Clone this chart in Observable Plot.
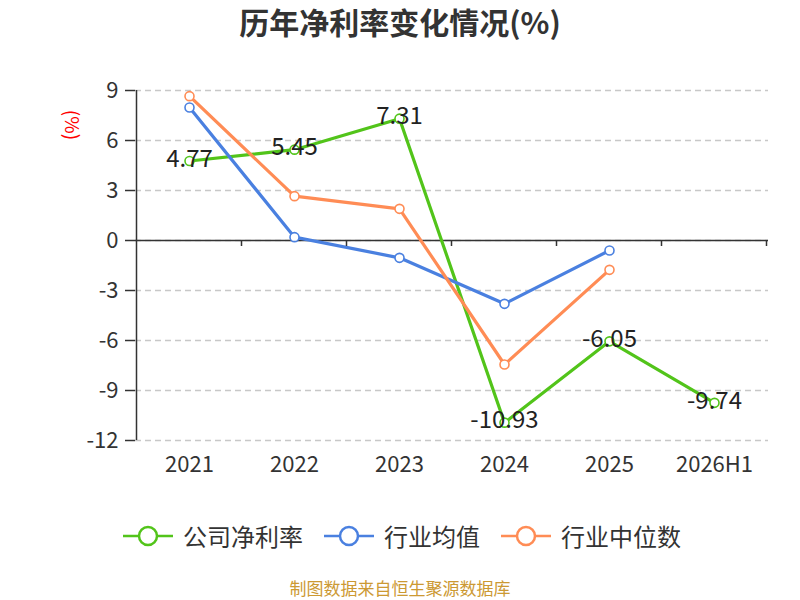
<!DOCTYPE html>
<html>
<head>
<meta charset="utf-8">
<script src="https://cdn.jsdelivr.net/npm/d3@7"></script>
<script src="https://cdn.jsdelivr.net/npm/@observablehq/plot@0.6"></script>
<style>
  html, body { margin: 0; padding: 0; background: #fff; }
  #wrap { position: relative; width: 800px; height: 600px; font-family: "Noto Sans CJK SC", "Noto Sans", sans-serif; overflow: hidden; }
  #title { position: absolute; top: -1px; left: 0; width: 800px; text-align: center; font-size: 30px; font-weight: bold; color: #333; }
  #chart { position: absolute; top: 50px; left: 0; }
  #ylabel { position: absolute; left: 73px; top: 125px; transform: translate(-50%, -50%) rotate(90deg); font-size: 19px; color: #f00; white-space: nowrap; }
  #legend { position: absolute; top: 518px; left: 2px; width: 800px; display: flex; justify-content: center; gap: 21px; font-size: 24px; color: #333; }
  .item { display: flex; align-items: center; gap: 10px; }
  #footer { position: absolute; top: 577px; left: 0; width: 800px; text-align: center; font-size: 17px; line-height: 21px; color: #cc9933; }
</style>
</head>
<body>
<div id="wrap">
  <div id="title">历年净利率变化情况(%)</div>
  <div id="chart"></div>
  <div id="ylabel">(%)</div>
  <div id="legend"></div>
  <div id="footer">制图数据来自恒生聚源数据库</div>
</div>
<script>
const years = ["2021", "2022", "2023", "2024", "2025", "2026H1"];
const companyNames = ["公司净利率", "行业均值", "行业中位数"];
const companyRate = [4.77, 5.45, 7.31, -10.93, -6.05, -9.74];
const industryAvg = [7.98, 0.2, -1.04, -3.8, -0.6];
const industryMedian = [8.66, 2.66, 1.9, -7.44, -1.76];
const yTicks = [9, 6, 3, 0, -3, -6, -9, -12];
const colors = ["#52c41a", "#4a80e0", "#ff8c55"];

const series = [companyRate, industryAvg, industryMedian];
const data = [];
series.forEach((arr, si) => arr.forEach((v, i) => data.push({year: years[i], value: v, s: companyNames[si]})));
const company = data.filter(d => d.s === companyNames[0]);

const W = 800, H = 450;
const chart = Plot.plot({
  width: W, height: H,
  marginLeft: 135, marginRight: 32, marginTop: 40, marginBottom: 60,
  style: {fontFamily: '"Noto Sans CJK SC", "Noto Sans", sans-serif', background: "transparent", color: "#333"},
  x: {type: "point", domain: years, padding: 0.5, label: null},
  y: {domain: [-12, 9], ticks: yTicks, label: null},
  color: {domain: companyNames, range: colors},
  marks: [
    Plot.gridY(yTicks, {stroke: "#c8c8c8", strokeOpacity: 1, strokeDasharray: "6,4", strokeWidth: 1.3}),
    Plot.ruleY([0], {stroke: "#333", strokeWidth: 1.5}),
    Plot.axisY({ticks: yTicks, tickFormat: d => String(d), tickSize: 10, tickPadding: 7, stroke: "#333", strokeWidth: 1.5, color: "#333"}),
    Plot.axisX({tickSize: 0, tickPadding: 16, color: "#333"}),
    Plot.line(data, {x: "year", y: "value", z: "s", stroke: "s", strokeWidth: 3.2, curve: "linear"}),
    Plot.dot(data, {x: "year", y: "value", stroke: "s", fill: "white", r: 4.5, strokeWidth: 1.6}),
    Plot.text(company, {x: "year", y: "value", text: d => d.value.toFixed(2), fontSize: 24, fill: "#222", dy: -2})
  ]
});
document.getElementById("chart").appendChild(chart);

const svg = d3.select(chart.tagName.toLowerCase() === "svg" ? chart : chart.querySelector("svg"));
// enlarge tick labels
const tickTexts = new Set([...years, ...yTicks.map(String)]);
svg.selectAll("text").each(function () {
  if (tickTexts.has(this.textContent.trim())) this.style.fontSize = "22px";
});

// axis lines and boundary ticks, positioned from the plot's own scales
const xs = chart.scale("x");
const ys = chart.scale("y");
const step = xs.apply(years[1]) - xs.apply(years[0]);
const y0 = ys.apply(0);
const xLeft = xs.apply(years[0]) - step / 2;
svg.append("line")
  .attr("x1", xLeft).attr("x2", xLeft)
  .attr("y1", ys.apply(yTicks[0])).attr("y2", ys.apply(yTicks[yTicks.length - 1]))
  .attr("stroke", "#333").attr("stroke-width", 1.5);
const bounds = years.map(y => xs.apply(y) + step / 2);
svg.append("g").selectAll("line").data(bounds).join("line")
  .attr("x1", d => d).attr("x2", d => d)
  .attr("y1", y0).attr("y2", y0 + 6)
  .attr("stroke", "#333").attr("stroke-width", 1.5);

// legend
const legend = d3.select("#legend");
companyNames.forEach((name, i) => {
  const item = legend.append("div").attr("class", "item");
  const s = item.append("svg").attr("width", 50).attr("height", 24);
  s.append("line").attr("x1", 0).attr("x2", 50).attr("y1", 12).attr("y2", 12).attr("stroke", colors[i]).attr("stroke-width", 2.5);
  s.append("circle").attr("cx", 25).attr("cy", 12).attr("r", 9).attr("fill", "white").attr("stroke", colors[i]).attr("stroke-width", 2.5);
  item.append("span").text(name);
});
</script>
</body>
</html>
